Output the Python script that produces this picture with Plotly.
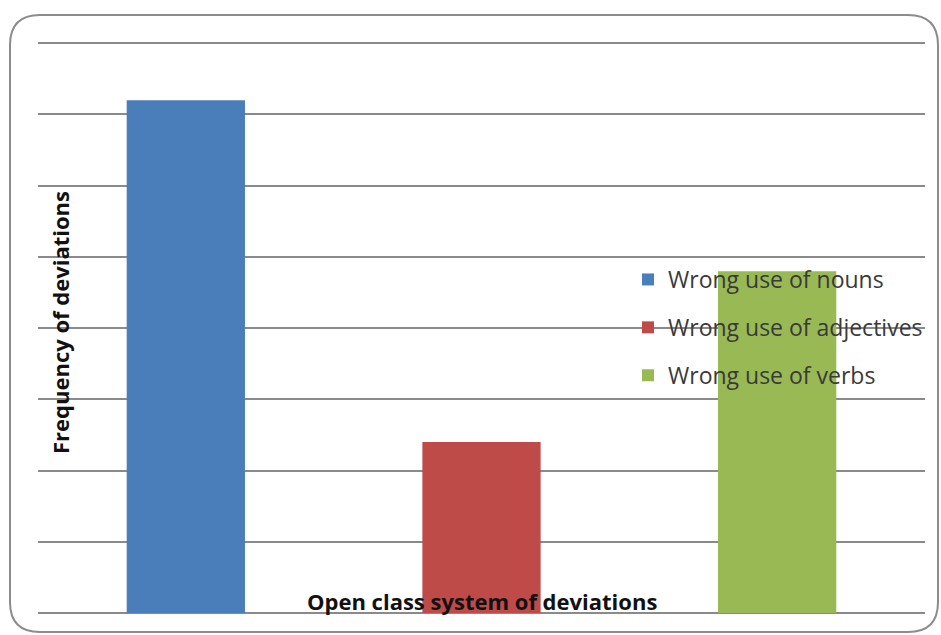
import plotly.graph_objects as go

# Frequency of open-class deviations by type
categories = ["Wrong use of nouns", "Wrong use of adjectives", "Wrong use of verbs"]
frequencies = [36, 12, 24]
colors = ["#4A7EBB", "#BE4B48", "#98B954"]

W, H = 941, 635
ML, MR, MT, MB = 38, 16, 29, 22
PW, PH = W - ML - MR, H - MT - MB


def px_to_paper(x, y):
    return (x - ML) / PW, (H - MB - y) / PH


def rounded_frame(x0, y0, x1, y1, r):
    pts = [
        ("M", (x0 + r, y0)), ("L", (x1 - r, y0)), ("Q", (x1, y0), (x1, y0 + r)),
        ("L", (x1, y1 - r)), ("Q", (x1, y1), (x1 - r, y1)),
        ("L", (x0 + r, y1)), ("Q", (x0, y1), (x0, y1 - r)),
        ("L", (x0, y0 + r)), ("Q", (x0, y0), (x0 + r, y0)),
    ]
    parts = []
    for cmd, *coords in pts:
        s = " ".join("%.5f,%.5f" % px_to_paper(*c) for c in coords)
        parts.append(cmd + " " + s)
    return " ".join(parts) + " Z"


fig = go.Figure()
for name, val, col in zip(categories, frequencies, colors):
    fig.add_trace(go.Bar(
        x=[name], y=[val], name=name, marker_color=col, width=0.4,
        legendgroup=name, marker_line_width=0,
    ))

fig.update_layout(
    width=W, height=H,
    margin=dict(l=ML, r=MR, t=MT, b=MB),
    paper_bgcolor="white", plot_bgcolor="white",
    barmode="overlay",
    font=dict(family="Open Sans", color="#333333"),
    xaxis=dict(showticklabels=False, showgrid=False, zeroline=False,
               showline=False, ticks=""),
    yaxis=dict(range=[0, 41], tick0=0, dtick=5, showticklabels=False, ticks="",
               gridcolor="#8A8A8A", gridwidth=1.5, zeroline=True,
               zerolinecolor="#8A8A8A", zerolinewidth=1.5, showline=False),
    legend=dict(x=px_to_paper(628, 0)[0], y=px_to_paper(0, 258)[1],
                xanchor="left", yanchor="top",
                bgcolor="rgba(0,0,0,0)", font=dict(size=23, color="#3a3a3a"),
                traceorder="grouped", tracegroupgap=15, itemwidth=30),
    showlegend=True,
    annotations=[
        dict(text="<b>Frequency of deviations</b>", textangle=-90,
             xref="paper", yref="paper", x=px_to_paper(60, 0)[0],
             y=px_to_paper(0, 323)[1], xanchor="center", yanchor="middle",
             showarrow=False, font=dict(size=22, color="#111111")),
        dict(text="<b>Open class system of deviations</b>",
             xref="paper", yref="paper", x=px_to_paper(482, 0)[0],
             y=px_to_paper(0, 601)[1], xanchor="center", yanchor="middle",
             showarrow=False, font=dict(size=22, color="#111111")),
    ],
    shapes=[dict(type="path", xref="paper", yref="paper",
                 path=rounded_frame(10, 15, 938, 632, 30),
                 line=dict(color="#8C8C8C", width=2), layer="below")],
)

fig.write_html("out.html")
